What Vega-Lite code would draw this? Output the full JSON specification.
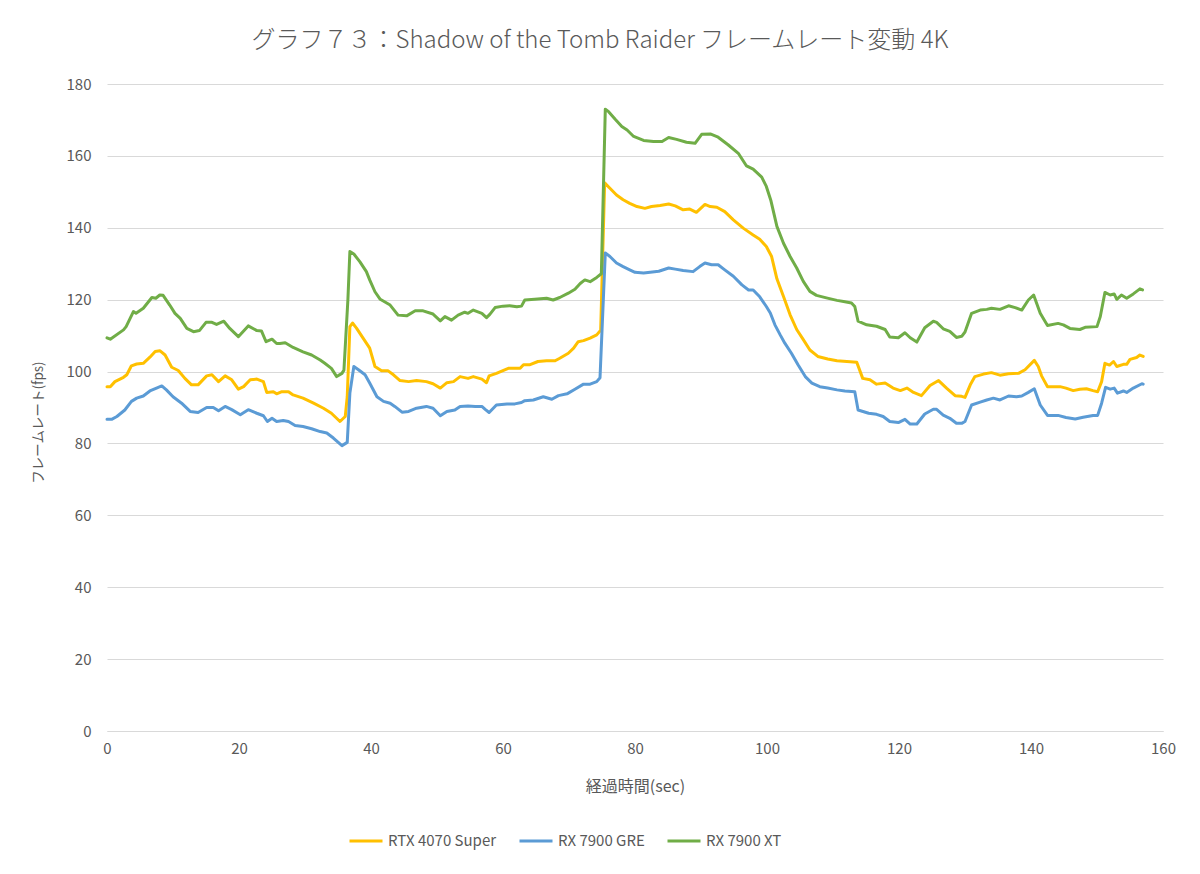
{
  "$schema": "https://vega.github.io/schema/vega-lite/v6.json",
  "width": 1056,
  "height": 647,
  "autosize": {"type": "none"},
  "padding": {"left": 107, "top": 84, "right": 37, "bottom": 143},
  "background": "white",
  "title": {
    "text": "グラフ７３：Shadow of the Tomb Raider フレームレート変動 4K",
    "font": "Noto Sans CJK JP",
    "fontSize": 24,
    "fontWeight": 300,
    "color": "#595959",
    "anchor": "middle",
    "baseline": "bottom",
    "offset": 0,
    "dx": -35
  },
  "config": {
    "view": {"stroke": null},
    "font": "Noto Sans CJK JP"
  },
  "datasets": {
    "rtx": [
      {"t":0,"fps":95.8},{"t":0.5,"fps":95.8},{"t":1.2,"fps":97.2},{"t":2.5,"fps":98.4},{"t":3,"fps":99.1},{"t":3.7,"fps":101.6},{"t":4.5,"fps":102.1},{"t":5.5,"fps":102.3},{"t":6.5,"fps":104},{"t":7.3,"fps":105.6},{"t":8,"fps":105.8},{"t":8.8,"fps":104.6},{"t":9.8,"fps":101.2},{"t":10.8,"fps":100.3},{"t":11.8,"fps":98.1},{"t":12.8,"fps":96.3},{"t":13.8,"fps":96.3},{"t":15.1,"fps":98.8},{"t":15.9,"fps":99.1},{"t":16.9,"fps":97.2},{"t":17.9,"fps":98.8},{"t":18.9,"fps":97.7},{"t":19.9,"fps":95.1},{"t":20.7,"fps":95.8},{"t":21.7,"fps":97.7},{"t":22.7,"fps":97.9},{"t":23.7,"fps":97.2},{"t":24.2,"fps":94.2},{"t":25.2,"fps":94.4},{"t":25.7,"fps":93.8},{"t":26.5,"fps":94.4},{"t":27.5,"fps":94.4},{"t":28.2,"fps":93.5},{"t":29.7,"fps":92.6},{"t":31.3,"fps":91.2},{"t":32.8,"fps":89.8},{"t":34,"fps":88.4},{"t":35.3,"fps":86.1},{"t":36.1,"fps":87.5},{"t":36.4,"fps":93},{"t":36.8,"fps":112.5},{"t":37.2,"fps":113.5},{"t":37.8,"fps":112.1},{"t":38.8,"fps":109.3},{"t":39.8,"fps":106.5},{"t":40.6,"fps":101.4},{"t":41.6,"fps":100.2},{"t":42.6,"fps":100.2},{"t":43.4,"fps":99.1},{"t":44.4,"fps":97.5},{"t":45.7,"fps":97.2},{"t":46.9,"fps":97.5},{"t":48.4,"fps":97.2},{"t":49.4,"fps":96.6},{"t":50.5,"fps":95.4},{"t":51.5,"fps":96.9},{"t":52.5,"fps":97.2},{"t":53.5,"fps":98.6},{"t":54.7,"fps":98.1},{"t":55.5,"fps":98.6},{"t":56.8,"fps":97.9},{"t":57.5,"fps":96.9},{"t":57.9,"fps":98.8},{"t":59,"fps":99.5},{"t":60.8,"fps":100.9},{"t":62.6,"fps":100.9},{"t":63.1,"fps":101.9},{"t":64.1,"fps":101.9},{"t":65.3,"fps":102.8},{"t":66.6,"fps":103},{"t":67.9,"fps":103},{"t":68.6,"fps":103.7},{"t":69.9,"fps":105.1},{"t":70.7,"fps":106.5},{"t":71.4,"fps":108.3},{"t":72.2,"fps":108.6},{"t":73.2,"fps":109.3},{"t":74.2,"fps":110.2},{"t":74.8,"fps":111.5},{"t":75.4,"fps":152.5},{"t":76.2,"fps":151},{"t":77.2,"fps":149.1},{"t":78.2,"fps":147.8},{"t":79.2,"fps":146.8},{"t":80.3,"fps":145.9},{"t":81.5,"fps":145.4},{"t":82.5,"fps":145.9},{"t":83.8,"fps":146.2},{"t":85.1,"fps":146.6},{"t":86.1,"fps":146.1},{"t":87.3,"fps":145},{"t":88.3,"fps":145.2},{"t":89.3,"fps":144.3},{"t":90.6,"fps":146.5},{"t":91.4,"fps":145.9},{"t":92.4,"fps":145.7},{"t":93.6,"fps":144.5},{"t":94.9,"fps":142.2},{"t":96.4,"fps":139.9},{"t":97.9,"fps":138},{"t":98.9,"fps":136.8},{"t":99.9,"fps":134.8},{"t":100.7,"fps":132},{"t":101.5,"fps":125.8},{"t":102.5,"fps":120.9},{"t":103.5,"fps":115.8},{"t":104.5,"fps":111.7},{"t":105.5,"fps":108.9},{"t":106.5,"fps":106},{"t":107.7,"fps":104.2},{"t":109.2,"fps":103.5},{"t":110.6,"fps":103},{"t":112.1,"fps":102.8},{"t":113.6,"fps":102.6},{"t":114.5,"fps":98.1},{"t":115.6,"fps":97.7},{"t":116.6,"fps":96.5},{"t":117.9,"fps":96.8},{"t":119.1,"fps":95.4},{"t":120.2,"fps":94.7},{"t":121.2,"fps":95.4},{"t":122.2,"fps":94.2},{"t":123.4,"fps":93.3},{"t":124.7,"fps":96.1},{"t":126,"fps":97.5},{"t":127.2,"fps":95.4},{"t":128.5,"fps":93.3},{"t":129.5,"fps":93.1},{"t":130,"fps":92.8},{"t":130.8,"fps":96.3},{"t":131.5,"fps":98.6},{"t":132.8,"fps":99.3},{"t":134,"fps":99.7},{"t":135.3,"fps":99},{"t":136.6,"fps":99.4},{"t":138.1,"fps":99.5},{"t":139.1,"fps":100.5},{"t":140.5,"fps":103.1},{"t":141.1,"fps":101.4},{"t":141.6,"fps":98.8},{"t":142.5,"fps":95.8},{"t":144.4,"fps":95.8},{"t":145.3,"fps":95.4},{"t":146.4,"fps":94.7},{"t":147.4,"fps":95.1},{"t":148.4,"fps":95.2},{"t":149.4,"fps":94.7},{"t":150.1,"fps":94.4},{"t":150.7,"fps":97.2},{"t":151.2,"fps":102.3},{"t":151.9,"fps":101.8},{"t":152.5,"fps":102.8},{"t":153,"fps":101.4},{"t":154,"fps":102},{"t":154.5,"fps":102},{"t":155,"fps":103.4},{"t":156,"fps":103.9},{"t":156.5,"fps":104.6},{"t":157,"fps":104.2}
    ],
    "gre": [
      {"t":0,"fps":86.7},{"t":0.7,"fps":86.7},{"t":1.5,"fps":87.5},{"t":2.7,"fps":89.3},{"t":3.7,"fps":91.7},{"t":4.5,"fps":92.6},{"t":5.5,"fps":93.2},{"t":6.5,"fps":94.6},{"t":7.5,"fps":95.4},{"t":8.3,"fps":96},{"t":9,"fps":94.9},{"t":10,"fps":93},{"t":11.3,"fps":91.2},{"t":12.6,"fps":88.9},{"t":13.8,"fps":88.6},{"t":15.1,"fps":90},{"t":16.1,"fps":90},{"t":16.9,"fps":89.1},{"t":17.9,"fps":90.3},{"t":18.9,"fps":89.4},{"t":20.2,"fps":88},{"t":21.4,"fps":89.4},{"t":22.7,"fps":88.4},{"t":23.7,"fps":87.7},{"t":24.3,"fps":86.1},{"t":25,"fps":87},{"t":25.7,"fps":86.1},{"t":26.7,"fps":86.4},{"t":27.5,"fps":86.1},{"t":28.5,"fps":85},{"t":29.7,"fps":84.7},{"t":31,"fps":84.1},{"t":32.3,"fps":83.3},{"t":33.3,"fps":82.9},{"t":34.3,"fps":81.5},{"t":35.6,"fps":79.4},{"t":36.4,"fps":80.3},{"t":36.8,"fps":94},{"t":37.4,"fps":101.4},{"t":38.1,"fps":100.5},{"t":39.1,"fps":99.1},{"t":39.8,"fps":96.8},{"t":40.9,"fps":93},{"t":41.9,"fps":91.7},{"t":42.9,"fps":91.2},{"t":43.6,"fps":90.3},{"t":44.7,"fps":88.7},{"t":45.7,"fps":88.9},{"t":46.9,"fps":89.8},{"t":48.4,"fps":90.3},{"t":49.4,"fps":89.8},{"t":50.5,"fps":87.7},{"t":51.5,"fps":88.9},{"t":52.7,"fps":89.3},{"t":53.5,"fps":90.3},{"t":54.7,"fps":90.4},{"t":55.8,"fps":90.3},{"t":56.8,"fps":90.3},{"t":57.3,"fps":89.5},{"t":57.9,"fps":88.6},{"t":59,"fps":90.7},{"t":60.6,"fps":91},{"t":61.8,"fps":91},{"t":62.8,"fps":91.4},{"t":63.3,"fps":91.9},{"t":64.6,"fps":92.1},{"t":66.1,"fps":93},{"t":67.4,"fps":92.3},{"t":68.4,"fps":93.3},{"t":69.7,"fps":93.8},{"t":70.9,"fps":95.1},{"t":72.2,"fps":96.5},{"t":73.2,"fps":96.5},{"t":74.2,"fps":97.2},{"t":74.7,"fps":98.3},{"t":75.5,"fps":133},{"t":76.2,"fps":132},{"t":77.2,"fps":130.2},{"t":78.2,"fps":129.2},{"t":79.2,"fps":128.3},{"t":80,"fps":127.6},{"t":81.3,"fps":127.4},{"t":82.3,"fps":127.6},{"t":83.6,"fps":127.9},{"t":85.1,"fps":128.8},{"t":86.1,"fps":128.5},{"t":87.3,"fps":128.1},{"t":88.8,"fps":127.8},{"t":89.8,"fps":129.2},{"t":90.6,"fps":130.2},{"t":91.6,"fps":129.7},{"t":92.6,"fps":129.7},{"t":93.6,"fps":128.3},{"t":94.9,"fps":126.5},{"t":96.2,"fps":124.1},{"t":97.2,"fps":122.7},{"t":97.9,"fps":122.7},{"t":98.9,"fps":120.8},{"t":99.9,"fps":118.1},{"t":100.5,"fps":116.3},{"t":101.2,"fps":113},{"t":102,"fps":110.2},{"t":102.7,"fps":107.9},{"t":103.7,"fps":105.1},{"t":104.7,"fps":101.9},{"t":105.8,"fps":98.6},{"t":106.8,"fps":96.8},{"t":108,"fps":95.8},{"t":109.2,"fps":95.4},{"t":110.6,"fps":94.9},{"t":111.8,"fps":94.6},{"t":113.3,"fps":94.4},{"t":113.8,"fps":89.3},{"t":115.4,"fps":88.4},{"t":116.6,"fps":88.1},{"t":117.6,"fps":87.5},{"t":118.6,"fps":86.1},{"t":119.9,"fps":85.8},{"t":120.9,"fps":86.7},{"t":121.7,"fps":85.4},{"t":122.7,"fps":85.4},{"t":123.9,"fps":88.2},{"t":125.2,"fps":89.5},{"t":125.7,"fps":89.5},{"t":126.7,"fps":87.9},{"t":127.7,"fps":87},{"t":128.7,"fps":85.6},{"t":129.5,"fps":85.6},{"t":130,"fps":86.1},{"t":131,"fps":90.7},{"t":132.3,"fps":91.5},{"t":133.3,"fps":92.1},{"t":134.3,"fps":92.6},{"t":135.3,"fps":92.1},{"t":136.6,"fps":93.2},{"t":137.8,"fps":93},{"t":138.6,"fps":93.2},{"t":139.6,"fps":94.2},{"t":140.5,"fps":95.2},{"t":141.4,"fps":90.7},{"t":142.5,"fps":87.8},{"t":144.1,"fps":87.8},{"t":145.3,"fps":87.2},{"t":146.7,"fps":86.8},{"t":147.9,"fps":87.3},{"t":149.4,"fps":87.8},{"t":150.1,"fps":87.8},{"t":150.7,"fps":91.2},{"t":151.3,"fps":95.6},{"t":152,"fps":95.1},{"t":152.6,"fps":95.4},{"t":153.1,"fps":94},{"t":154,"fps":94.6},{"t":154.5,"fps":94.2},{"t":155.5,"fps":95.4},{"t":156.8,"fps":96.6},{"t":157,"fps":96.5}
    ],
    "xt": [
      {"t":0,"fps":109.4},{"t":0.5,"fps":109},{"t":2.5,"fps":111.6},{"t":2.9,"fps":112.5},{"t":4,"fps":116.7},{"t":4.4,"fps":116.2},{"t":5.5,"fps":117.6},{"t":6.8,"fps":120.6},{"t":7.4,"fps":120.4},{"t":8,"fps":121.3},{"t":8.5,"fps":121.2},{"t":9.5,"fps":118.5},{"t":10.3,"fps":116.2},{"t":11.1,"fps":114.8},{"t":12.1,"fps":112},{"t":13.1,"fps":111.1},{"t":14,"fps":111.4},{"t":15,"fps":113.7},{"t":15.9,"fps":113.7},{"t":16.6,"fps":113.1},{"t":17.7,"fps":114},{"t":18.6,"fps":112},{"t":19.9,"fps":109.7},{"t":21.4,"fps":112.7},{"t":22.7,"fps":111.4},{"t":23.4,"fps":111.3},{"t":24.1,"fps":108.3},{"t":25,"fps":109},{"t":25.7,"fps":107.8},{"t":26.2,"fps":107.8},{"t":27,"fps":108},{"t":28.2,"fps":106.7},{"t":29.7,"fps":105.5},{"t":31,"fps":104.6},{"t":32.3,"fps":103.2},{"t":33,"fps":102.3},{"t":34,"fps":100.9},{"t":34.8,"fps":98.6},{"t":35.6,"fps":99.5},{"t":35.9,"fps":100.4},{"t":36.5,"fps":120},{"t":36.8,"fps":133.4},{"t":37.4,"fps":132.7},{"t":38.3,"fps":130.6},{"t":39.3,"fps":127.8},{"t":39.8,"fps":125.5},{"t":40.6,"fps":122.2},{"t":41.4,"fps":120.1},{"t":42.9,"fps":118.5},{"t":44.1,"fps":115.7},{"t":45.4,"fps":115.5},{"t":46.7,"fps":116.9},{"t":47.9,"fps":116.9},{"t":49.4,"fps":116},{"t":50.5,"fps":114.1},{"t":51.2,"fps":115.3},{"t":52.2,"fps":114.3},{"t":53.2,"fps":115.7},{"t":54.2,"fps":116.5},{"t":54.7,"fps":116.2},{"t":55.5,"fps":117.1},{"t":56.8,"fps":116.2},{"t":57.5,"fps":115},{"t":58,"fps":115.9},{"t":58.8,"fps":117.8},{"t":60,"fps":118.2},{"t":61,"fps":118.3},{"t":62.1,"fps":118},{"t":62.8,"fps":118.2},{"t":63.3,"fps":119.9},{"t":64.8,"fps":120.1},{"t":66.6,"fps":120.4},{"t":67.6,"fps":119.9},{"t":68.6,"fps":120.6},{"t":69.9,"fps":121.8},{"t":70.9,"fps":122.9},{"t":71.7,"fps":124.5},{"t":72.4,"fps":125.5},{"t":73.2,"fps":125},{"t":74.2,"fps":126.2},{"t":74.9,"fps":127.2},{"t":75.5,"fps":173},{"t":76,"fps":172.3},{"t":77,"fps":170.2},{"t":78,"fps":168.2},{"t":78.8,"fps":167.2},{"t":79.8,"fps":165.4},{"t":81.3,"fps":164.3},{"t":82.8,"fps":164},{"t":84.1,"fps":164},{"t":85.1,"fps":165.1},{"t":86.3,"fps":164.6},{"t":87.8,"fps":163.8},{"t":89.1,"fps":163.5},{"t":90.1,"fps":166},{"t":91.4,"fps":166.1},{"t":92.6,"fps":165.2},{"t":94.1,"fps":163.1},{"t":95.7,"fps":160.6},{"t":96.9,"fps":157.2},{"t":97.9,"fps":156.3},{"t":99.2,"fps":154.1},{"t":99.9,"fps":151.5},{"t":100.6,"fps":147.5},{"t":101.5,"fps":140.4},{"t":102.5,"fps":135.7},{"t":103.5,"fps":132},{"t":104.5,"fps":128.8},{"t":105.5,"fps":125.1},{"t":106.5,"fps":122.3},{"t":107.5,"fps":121.2},{"t":109,"fps":120.5},{"t":110.6,"fps":119.8},{"t":111.6,"fps":119.5},{"t":112.8,"fps":119.1},{"t":113.3,"fps":118.1},{"t":113.8,"fps":114},{"t":115.1,"fps":113},{"t":116.6,"fps":112.6},{"t":117.9,"fps":111.7},{"t":118.6,"fps":109.6},{"t":119.9,"fps":109.4},{"t":120.9,"fps":110.8},{"t":121.7,"fps":109.4},{"t":122.7,"fps":108.2},{"t":123.9,"fps":112.2},{"t":125.2,"fps":114},{"t":125.7,"fps":113.7},{"t":126.7,"fps":111.9},{"t":127.7,"fps":111.2},{"t":128.7,"fps":109.5},{"t":129.5,"fps":109.8},{"t":130,"fps":111},{"t":131,"fps":116.2},{"t":132.3,"fps":117.1},{"t":133.3,"fps":117.3},{"t":134,"fps":117.6},{"t":135.3,"fps":117.3},{"t":136.6,"fps":118.3},{"t":137.6,"fps":117.8},{"t":138.6,"fps":117.1},{"t":139.6,"fps":119.9},{"t":140.4,"fps":121.3},{"t":141.4,"fps":116.2},{"t":142.5,"fps":112.8},{"t":144.1,"fps":113.4},{"t":144.9,"fps":113},{"t":145.9,"fps":112},{"t":147.4,"fps":111.7},{"t":148.2,"fps":112.3},{"t":150,"fps":112.5},{"t":150.5,"fps":115.3},{"t":151.2,"fps":122},{"t":152,"fps":121.3},{"t":152.6,"fps":121.6},{"t":153,"fps":120.1},{"t":153.7,"fps":121.3},{"t":154.5,"fps":120.4},{"t":155.5,"fps":121.6},{"t":156.5,"fps":123},{"t":156.9,"fps":122.7}
    ]
  },
  "encoding": {
    "x": {
      "field": "t", "type": "quantitative",
      "scale": {"domain": [0, 160], "nice": false, "zero": false},
      "axis": {
        "values": [0, 20, 40, 60, 80, 100, 120, 140, 160],
        "title": "経過時間(sec)",
        "grid": false, "ticks": false,
        "domainColor": "#D9D9D9", "domainWidth": 1,
        "labelFlush": false,
        "labelFont": "Noto Sans CJK JP", "labelFontSize": 15, "labelColor": "#595959",
        "labelPadding": 10,
        "titleFont": "Noto Sans CJK JP", "titleFontSize": 16, "titleFontWeight": "normal", "titleColor": "#595959",
        "titleY": 55, "titleBaseline": "middle"
      }
    },
    "y": {
      "field": "fps", "type": "quantitative",
      "scale": {"domain": [0, 180], "nice": false},
      "axis": {
        "values": [0, 20, 40, 60, 80, 100, 120, 140, 160, 180],
        "title": "フレームレート(fps)",
        "grid": true, "gridColor": "#D9D9D9", "gridWidth": 1,
        "domain": false, "ticks": false,
        "labelFlush": false,
        "labelFont": "Noto Sans CJK JP", "labelFontSize": 15, "labelColor": "#595959",
        "labelPadding": 16,
        "titleFont": "Noto Sans CJK JP", "titleFontSize": 13.5, "titleFontWeight": "normal", "titleColor": "#595959",
        "titleX": -69, "titleY": 338, "titleAngle": -90, "titleBaseline": "middle", "titleAlign": "center"
      }
    }
  },
  "layer": [
    {
      "data": {"name": "rtx"},
      "mark": {"type": "line", "strokeWidth": 3, "strokeJoin": "round", "strokeCap": "round"},
      "encoding": {"color": {"datum": "RTX 4070 Super"}}
    },
    {
      "data": {"name": "gre"},
      "mark": {"type": "line", "strokeWidth": 3, "strokeJoin": "round", "strokeCap": "round"},
      "encoding": {"color": {"datum": "RX 7900 GRE"}}
    },
    {
      "data": {"name": "xt"},
      "mark": {"type": "line", "strokeWidth": 3, "strokeJoin": "round", "strokeCap": "round"},
      "encoding": {
        "color": {
          "datum": "RX 7900 XT",
          "scale": {
            "domain": ["RTX 4070 Super", "RX 7900 GRE", "RX 7900 XT"],
            "range": ["#FFC000", "#5B9BD5", "#70AD47"]
          },
          "legend": {
            "title": null,
            "orient": "none",
            "direction": "horizontal",
            "legendX": 241,
            "legendY": 739,
            "gridAlign": "none",
            "symbolType": "stroke",
            "symbolSize": 1089,
            "symbolStrokeWidth": 3,
            "labelFont": "Noto Sans CJK JP",
            "labelFontSize": 15,
            "labelColor": "#595959",
            "labelOffset": 4,
            "columnPadding": 16
          }
        }
      }
    }
  ]
}
